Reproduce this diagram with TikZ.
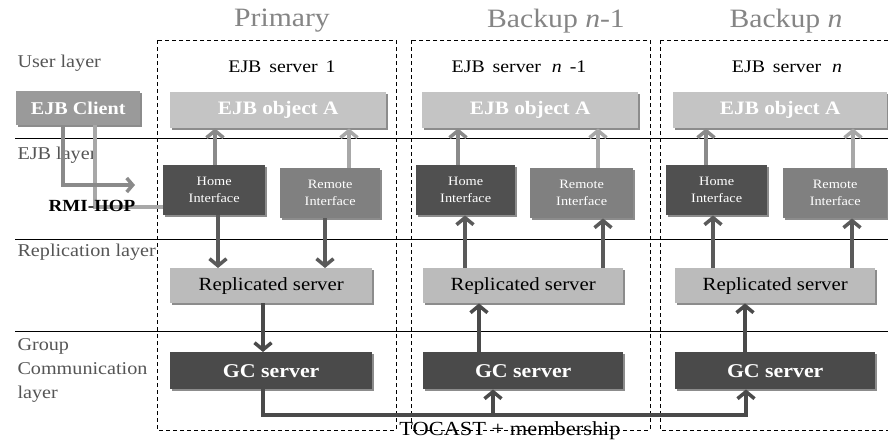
\documentclass[tikz,border=0pt]{standalone}
\usepackage{fontspec}
\setmainfont{Liberation Serif}[FakeStretch=1.12]
\usetikzlibrary{arrows.meta}
\definecolor{clientgray}{HTML}{9A9A9A}
\definecolor{objgray}{HTML}{C4C4C4}
\definecolor{homegray}{HTML}{505050}
\definecolor{remotegray}{HTML}{808080}
\definecolor{repgray}{HTML}{BBBBBB}
\definecolor{gcgray}{HTML}{4A4A4A}
\definecolor{titlegray}{HTML}{858585}
\definecolor{labelgray}{HTML}{555555}
\definecolor{amed}{HTML}{8A8A8A}
\definecolor{alight}{HTML}{A8A8A8}
\definecolor{adark}{HTML}{5A5A5A}
\tikzset{
  box/.style={anchor=north west, inner sep=0pt, align=center},
  clientbox/.style={fill=clientgray, text=white, font=\fontsize{18}{20}\selectfont\bfseries},
  objbox/.style={fill=objgray, text=white, font=\fontsize{19}{21}\selectfont\bfseries},
  homebox/.style={fill=homegray, text=white, font=\fontsize{12.8}{17}\selectfont},
  remotebox/.style={fill=remotegray, text=white, font=\fontsize{12.8}{17}\selectfont},
  repbox/.style={fill=repgray, text=black, font=\fontsize{18.6}{20}\selectfont},
  gcbox/.style={fill=gcgray, text=white, font=\fontsize{19.5}{21}\selectfont\bfseries},
  arrhead/.style={-{Straight Barb[length=7pt,width=17pt,line width=3.5pt]}},
  arr/.style={line width=4.5pt, arrhead},
  layerline/.style={black, line width=0.8pt},
  frame/.style={black, line width=0.9pt, dash pattern=on 4pt off 3pt},
  title/.style={font=\fontsize{26.5}{28}\selectfont, text=titlegray},
  lab/.style={font=\fontsize{18}{20}\selectfont, text=labelgray, anchor=west},
  srv/.style={font=\fontsize{17.7}{19}\selectfont, text=black}
}
\newcommand{\mybox}[7]{%
  \fill[black!45] (#2+2,#3+2) rectangle ++(#4,#5);
  \node[box, #6, minimum width=#4, minimum height=#5] (#1) at (#2,#3) {#7};}
\begin{document}
\begin{tikzpicture}[x=1pt,y=-1pt]
\useasboundingbox (0,0) rectangle (888,439);
\fill[white] (0,0) rectangle (888,439);

% dashed frames
\draw[frame] (157,40) rectangle (396,430);
\draw[frame] (411,40) rectangle (650,430);
\draw[frame] (660,40) rectangle (895,430);

% layer lines
\coordinate (l1a) at (15,138); \coordinate (l1b) at (888,138);
\coordinate (l2a) at (15,239); \coordinate (l2b) at (888,239);
\coordinate (l3a) at (15,331); \coordinate (l3b) at (888,331);
\draw[layerline] (l1a) -- (l1b);
\draw[layerline] (l2a) -- (l2b);
\draw[layerline] (l3a) -- (l3b);

% titles
\node[title] (t1) at (282,21) {Primary};
\node[title] (t2) at (556,21) {Backup \textit{n}-1};
\node[title] (t3) at (786,21) {Backup \textit{n}};

% server labels
\node[srv] (s1) at (282,67) {EJB\, server\, 1};
\node[srv] (s2) at (519,67) {EJB\, server\,\, \textit{n}\, -1};
\node[srv] (s3) at (787,67) {EJB\, server\,\, \textit{n}};

% layer labels
\node[lab] (u) at (14,63) {User layer};
\node[lab] (e) at (14,155) {EJB layer};
\node[lab] (r) at (14,252) {Replication layer};
\node[lab, align=left, font=\fontsize{18}{24}\selectfont] (g) at (14,370) {Group\\Communication\\layer};

% boxes
\mybox{client}{16}{91}{124}{34}{clientbox}{EJB Client}
\mybox{objA1}{170}{92}{216}{36}{objbox}{EJB object A}
\mybox{objA2}{422}{92}{216}{36}{objbox}{EJB object A}
\mybox{objA3}{673}{92}{214}{36}{objbox}{EJB object A}
\mybox{home1}{163}{165}{102}{50}{homebox}{Home\\Interface}
\mybox{remote1}{280}{168}{100}{50}{remotebox}{Remote\\Interface}
\mybox{home2}{416}{165}{99}{50}{homebox}{Home\\Interface}
\mybox{remote2}{530}{168}{103}{50}{remotebox}{Remote\\Interface}
\mybox{home3}{666}{165}{101}{50}{homebox}{Home\\Interface}
\mybox{remote3}{783}{168}{104}{50}{remotebox}{Remote\\Interface}
\mybox{rep1}{170}{268}{202}{35}{repbox}{Replicated server}
\mybox{rep2}{423}{268}{200}{35}{repbox}{Replicated server}
\mybox{rep3}{675}{268}{200}{35}{repbox}{Replicated server}
\mybox{gc1}{170}{352}{202}{37}{gcbox}{GC server}
\mybox{gc2}{423}{352}{200}{37}{gcbox}{GC server}
\mybox{gc3}{675}{352}{200}{37}{gcbox}{GC server}

% client arrows
\coordinate (rmiend) at (135,185);
\draw[line width=4.5pt, alight] (client.south -| 95,0) |- (home1.west |- 0,207);
\draw[line width=4.5pt, amed, -{Straight Barb[length=6pt,width=14pt,line width=3.5pt]}] (client.south -| 63,0) |- (rmiend);
\node[font=\fontsize{17}{19}\selectfont\bfseries, text=black] (rmi) at (92,206) {RMI-IIOP};

% primary arrows
\draw[arr, amed] (home1.north -| 215,0) -- (objA1.south -| 215,0);
\draw[arr, alight] (remote1.north -| 349,0) -- (objA1.south -| 349,0);
\draw[arr, adark] (home1.south -| 218,0) -- (rep1.north -| 218,0);
\draw[arr, adark] (remote1.south -| 325,0) -- (rep1.north -| 325,0);
\draw[arr, gcgray] (rep1.south -| 263,0) -- (gc1.north -| 263,0);

% backup n-1 arrows
\draw[arr, amed] (home2.north -| 458,0) -- (objA2.south -| 458,0);
\draw[arr, alight] (remote2.north -| 598,0) -- (objA2.south -| 598,0);
\draw[arr, adark] (rep2.north -| 465,0) -- (home2.south -| 465,0);
\draw[arr, adark] (rep2.north -| 603,0) -- (remote2.south -| 603,0);
\draw[arr, gcgray] (gc2.north -| 479,0) -- (rep2.south -| 479,0);

% backup n arrows
\draw[arr, amed] (home3.north -| 706,0) -- (objA3.south -| 706,0);
\draw[arr, alight] (remote3.north -| 853,0) -- (objA3.south -| 853,0);
\draw[arr, adark] (rep3.north -| 713,0) -- (home3.south -| 713,0);
\draw[arr, adark] (rep3.north -| 852,0) -- (remote3.south -| 852,0);
\draw[arr, gcgray] (gc3.north -| 745,0) -- (rep3.south -| 745,0);

% TOCAST
\coordinate (tb) at (493,415);
\draw[line width=3.5pt, gcgray, arrhead] (gc1.south -| 263,0) |- (tb) -| (gc3.south -| 746,0);
\draw[line width=3.5pt, gcgray, arrhead] (tb) -- (gc2.south -| 493,0);
\node[anchor=base, font=\fontsize{20}{22}\selectfont, inner sep=0pt] (toc) at (510,435) {TOCAST + membership};
\end{tikzpicture}
\end{document}
